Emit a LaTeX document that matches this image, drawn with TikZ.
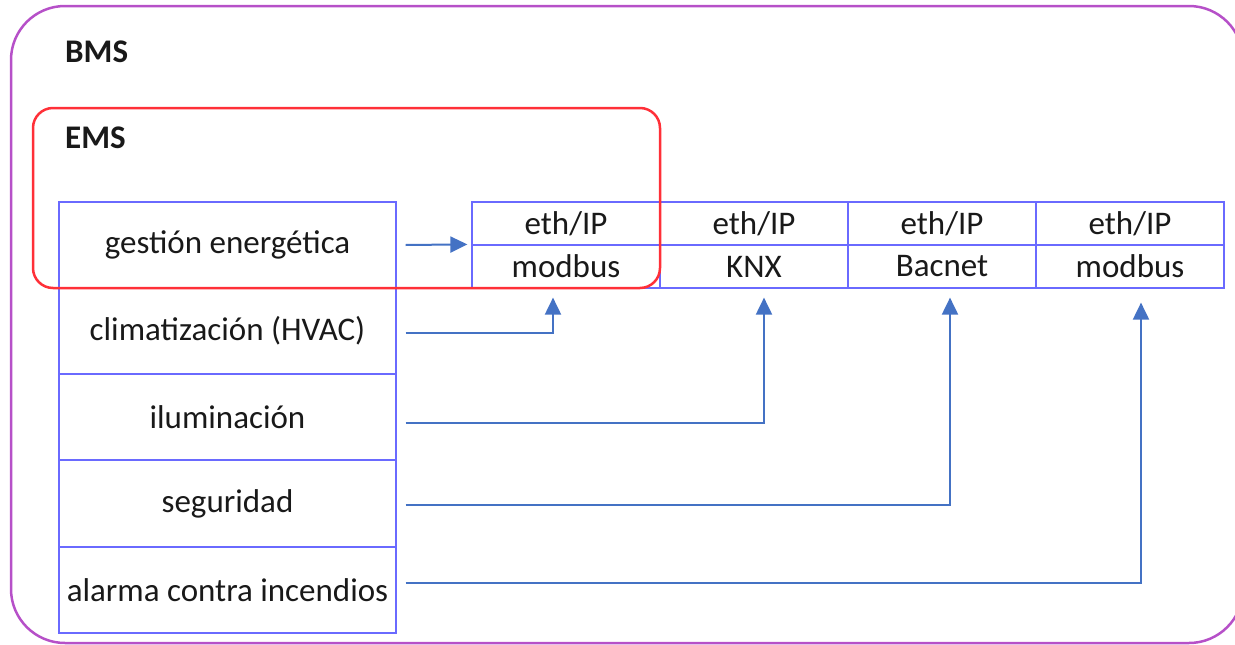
\documentclass[tikz,border=0pt]{standalone}
\usepackage{fontspec}
\setmainfont{Carlito}
\usetikzlibrary{arrows.meta,calc}
\definecolor{bmscol}{HTML}{B650C8}
\definecolor{emscol}{HTML}{FF3038}
\definecolor{boxcol}{HTML}{6A6AFF}
\definecolor{arrcol}{HTML}{4472C4}
\begin{document}
\begin{tikzpicture}[x=1pt,y=-1pt,
  every node/.style={font=\fontsize{33}{40}\selectfont, text=black!90},
  rowbox/.style={draw=boxcol, line width=1.2pt, minimum width=337pt, minimum height=86pt, inner sep=0pt},
  cellbox/.style={draw=boxcol, line width=1.2pt, minimum width=188pt, minimum height=43pt, inner sep=0pt},
  arr/.style={draw=arrcol, line width=2pt, -{Triangle[length=17pt,width=16pt]}},
  title/.style={anchor=base west, inner sep=0pt, font=\fontsize{33}{40}\selectfont\bfseries}]
\useasboundingbox (0,0) rectangle (1235,645);
% BMS frame
\draw[bmscol, line width=2.5pt, rounded corners=54pt] (11,6) rectangle (1243,643);
\node[title] (bms) at (65,62) {BMS};
% left column
\node[rowbox] (g) at (227.5,245) {gestión energética};
\node[rowbox] (c) at (227.5,331) {climatización (HVAC)};
\node[rowbox] (i) at (227.5,417) {iluminación};
\node[rowbox] (s) at (227.5,503.5) {seguridad};
\node[rowbox] (a) at (227.5,590) {alarma contra incendios};
% protocol table
\node[cellbox] (t1) at (566,223.5) {eth/IP};
\node[cellbox] (b1) at (566,266.5) {modbus};
\node[cellbox] (t2) at (754,223.5) {eth/IP};
\node[cellbox] (b2) at (754,266.5) {KNX};
\node[cellbox] (t3) at (942,223.5) {eth/IP};
\node[cellbox] (b3) at (942,266.5) {Bacnet};
\node[cellbox] (t4) at (1130,223.5) {eth/IP};
\node[cellbox] (b4) at (1130,266.5) {modbus};
% EMS frame
\draw[emscol, line width=2.5pt, rounded corners=20pt] (33,108) rectangle (660,288);
\node[title] (ems) at (65,148) {EMS};
% connectors
\draw[arr] ([xshift=9pt]g.east) -- ([xshift=-4pt]b1.north west);
\draw[arr] ([xshift=9pt,yshift=-2pt]c.east) -| ([xshift=-13pt,yshift=-9pt]b1.south);
\draw[arr] ([xshift=9pt,yshift=-6pt]i.east) -| ([xshift=10pt,yshift=-9pt]b2.south);
\draw[arr] ([xshift=9pt,yshift=-1.5pt]s.east) -| ([xshift=8pt,yshift=-9pt]b3.south);
\draw[arr] ([xshift=9pt,yshift=7pt]a.east) -| ([xshift=11pt,yshift=-14pt]b4.south);
\end{tikzpicture}
\end{document}
